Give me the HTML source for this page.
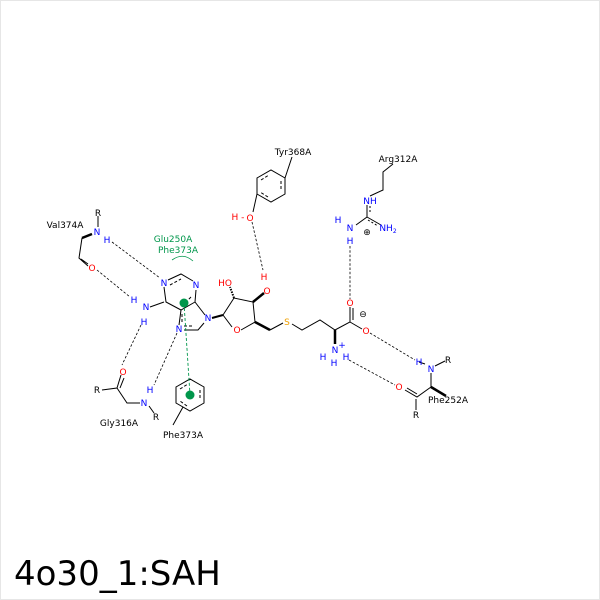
<!DOCTYPE html>
<html><head><style>
html,body{margin:0;padding:0;background:#fff}
svg{display:block}
text{font-family:"DejaVu Sans","Liberation Sans",sans-serif;font-size:9px}
.b{fill:#0000ff}.r{fill:#ff0000}.g{fill:#00964b}.s{fill:#f0a000}
</style></head><body>
<svg width="600" height="600" viewBox="0 0 600 600" xmlns="http://www.w3.org/2000/svg">
<rect x="0.5" y="0.5" width="599" height="599" fill="#fff" stroke="#e6e6e6"/>
<g stroke="#000" stroke-width="1" fill="none">
<!-- adenine -->
<path d="M168,280 L181,274 L193,281 M196,290 L195,302 L181,310 L166,302 L164,287 M195,302 L205,315 M204,323 L198,330 L184,330 M179,325 L181,310"/>
<path d="M170,285 L181,279 M191,297 L183,305 M182,314 L182,322 M192,326 L184,326" stroke-dasharray="3,2"/>
<path d="M164,302 L150,307"/>
<!-- ribose -->
<path d="M212,318 L223,315" stroke-width="2"/>
<path d="M223,315 L232,327 M241,330 L255,322 L253,302 L234,298 L223,315"/>
<path d="M253,302 L264,293" stroke-width="2.5"/>
<path d="M234,298 L230,287" stroke-dasharray="1.5,1.2" stroke-width="2"/>
<path d="M255,322 L270,330" stroke-width="2.5"/>
<path d="M270,330 L283,323 M292,324 L302,330 L320,320 L335,330 L350,322 L350,307 M350,322 L362,329"/>
<path d="M353,320 L353,308" />
<path d="M335,330 L335,344" stroke-width="2.5"/>
<!-- Tyr -->
<path d="M285,178 L285,194 L271,202 L257,194 L257,178 L271,170 Z M257,194 L253,212 M285,178 L292,157"/>
<path d="M281,181 L281,191 M268,197 L260,192 M261,180 L269,175" stroke-dasharray="3,2"/>
<!-- Arg -->
<path d="M370,196 L383,190 L383,172 L393,164 M367,205 L367,217 L356,225 M367,217 L381,225"/>
<path d="M370,206 L370,214 M368,220 L378,226" stroke-dasharray="2,2"/>
<!-- Phe252 -->
<path d="M425,364 L419,362 M435,366 L445,361 M431,373 L431,387 M431,387 L417,397 L405,390 M416,399 L416,410 M417,394 L407,388"/>
<path d="M431,387 L446,396" stroke-width="2.5"/>
<!-- Val374 -->
<path d="M98,216 L98,227 M82,238 L79,258 L88,266 M81,259 L88,264"/>
<path d="M82,238 L92,234" stroke-width="2.5"/>
<!-- Gly316 -->
<path d="M121,375 L117,388 L102,390 M117,388 L127,403 L140,403 M149,406 L154,413 M124,378 L120,388"/>
<!-- Phe373 ring -->
<path d="M204,387 L204,403 L190,411 L176,403 L176,387 L190,379 Z M183,407 L173,425"/>
<path d="M200,390 L200,400 M187,406 L180,401 M180,389 L188,384" stroke-dasharray="3,2"/>
</g>
<!-- hbonds -->
<g stroke="#000" stroke-width="0.8" fill="none" stroke-dasharray="2.5,1.8">
<path d="M112,242 L160,278 M97,270 L130,297 M141,325 L122,365 M177,333 L154,385 M252,222 L263,270 M350,246 L350,299 M370,333 L415,360 M349,360 L395,385"/>
</g>
<path d="M184,303 L190,395" stroke="#00964b" stroke-width="0.9" stroke-dasharray="3,2" fill="none"/>
<circle cx="184" cy="303" r="4.5" fill="#00964b"/>
<circle cx="190" cy="395" r="4.5" fill="#00964b"/>
<path d="M172,260 Q183,252 193,261" stroke="#00964b" stroke-width="0.8" fill="none"/>
<!-- atoms -->
<g text-anchor="middle">
<text class="b" x="164" y="286">N</text>
<text class="b" x="196" y="288">N</text>
<text class="b" x="208" y="321">N</text>
<text class="b" x="179" y="332">N</text>
<text class="b" x="146" y="310">N</text>
<text class="b" x="134" y="303">H</text>
<text class="b" x="144" y="325">H</text>
<text class="r" x="225" y="286">HO</text>
<text class="r" x="237" y="333">O</text>
<text class="r" x="267" y="294">O</text>
<text class="r" x="264" y="280">H</text>
<text class="s" x="287" y="325">S</text>
<text class="r" x="350" y="306">O</text>
<text class="r" x="366" y="334">O</text>
<text x="363" y="317" font-size="10">⊖</text>
<text class="b" x="335" y="353">N</text>
<text class="b" x="342" y="348" font-size="7">+</text>
<text class="b" x="323" y="360">H</text>
<text class="b" x="334" y="366">H</text>
<text class="b" x="346" y="360">H</text>
<text class="r" x="250" y="221">O</text>
<text class="r" x="238" y="220">H -</text>
<text x="293" y="155" font-size="7.5">Tyr368A</text>
<text class="b" x="370" y="204">NH</text>
<text class="b" x="350" y="231">N</text>
<text class="b" x="338" y="223">H</text>
<text class="b" x="350" y="244">H</text>
<text class="b" x="388" y="231">NH<tspan font-size="6" dy="2">2</tspan></text>
<text x="367" y="235" font-size="10">⊕</text>
<text x="398" y="162" font-size="7.5">Arg312A</text>
<text class="b" x="419" y="365">H</text>
<text class="b" x="431" y="372">N</text>
<text x="448" y="363">R</text>
<text class="r" x="399" y="390">O</text>
<text x="416" y="418">R</text>
<text x="448" y="403" font-size="7.5">Phe252A</text>
<text x="65" y="228" font-size="7.5">Val374A</text>
<text class="b" x="97" y="235">N</text>
<text x="98" y="216">R</text>
<text class="b" x="107" y="243">H</text>
<text class="r" x="92" y="271">O</text>
<text class="r" x="123" y="375">O</text>
<text x="97" y="393">R</text>
<text class="b" x="144" y="406">N</text>
<text class="b" x="150" y="393">H</text>
<text x="156" y="420">R</text>
<text x="119" y="426" font-size="7.5">Gly316A</text>
<text x="183" y="438" font-size="7.5">Phe373A</text>
<text class="g" x="173" y="242" font-size="7.5">Glu250A</text>
<text class="g" x="178" y="253" font-size="7.5">Phe373A</text>
</g>
<text x="14" y="585" style="font-size:34px">4o30_1:SAH</text>
</svg>
</body></html>
